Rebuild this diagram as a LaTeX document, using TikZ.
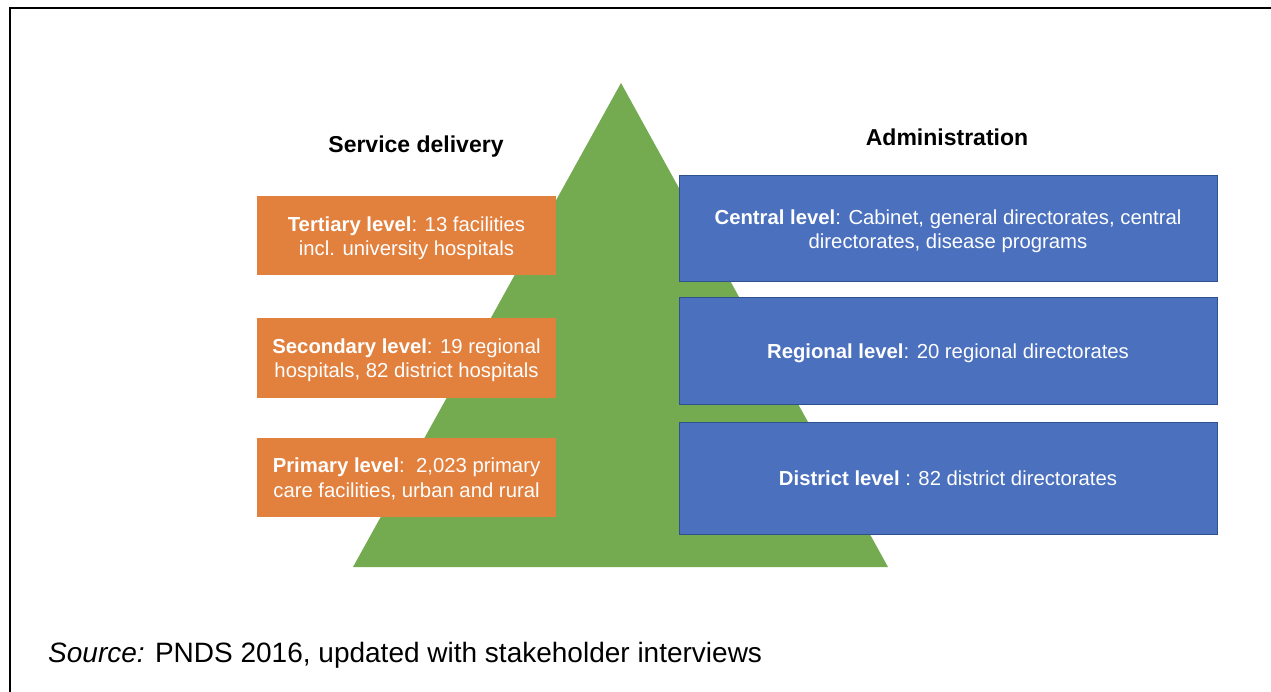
\documentclass[tikz,border=0pt]{standalone}
\usepackage{fontspec}
\setmainfont{Liberation Sans}
\definecolor{orangebox}{RGB}{226,128,62}
\definecolor{bluebox}{RGB}{74,112,190}
\definecolor{blueedge}{RGB}{47,82,143}
\definecolor{greentri}{RGB}{116,170,80}
\begin{document}
\begin{tikzpicture}[x=1pt,y=-1pt,
  sdbox/.style={fill=orangebox, minimum width=299pt, minimum height=79pt, text=white, align=center, inner sep=0pt, text depth=0pt, font=\fontsize{20.3}{24.5}\selectfont},
  adbox/.style={fill=bluebox, draw=blueedge, line width=1pt, minimum width=538pt, text=white, align=center, inner sep=0pt, text depth=0pt, font=\fontsize{20.3}{24.5}\selectfont},
  heading/.style={font=\fontsize{23}{27}\selectfont\bfseries, inner sep=0pt},
  frameline/.style={line width=2pt, black}]
\useasboundingbox (0,0) rectangle (1271,692);
\fill[white] (0,0) rectangle (1271,692);
\draw[frameline] (10,692) -- (10,8) -- (1271,8);
\fill[greentri] (621,83) -- (888,567) -- (353,567) -- cycle;
\node[heading] (sd) at (416,147) {Service delivery};
\node[heading] (ad) at (947,137) {Administration};
\node[sdbox] (ter) at (406.5,236) {\textbf{Tertiary level}: 13 facilities\\incl. university hospitals};
\node[sdbox] (sec) at (406.5,358) {\textbf{Secondary level}: 19 regional\\hospitals, 82 district hospitals};
\node[sdbox] (pri) at (406.5,477.5) {\textbf{Primary level}:\ \ 2,023 primary\\care facilities, urban and rural};
\node[adbox, minimum height=106pt] (cen) at (948,229) {\textbf{Central level}: Cabinet, general directorates, central\\directorates, disease programs};
\node[adbox, minimum height=106pt] (reg) at (948,351) {\textbf{Regional level}: 20 regional directorates};
\node[adbox, minimum height=112pt] (dis) at (948,478) {\textbf{District level} : 82 district directorates};
\node[anchor=base west, inner sep=0pt, font=\fontsize{28}{33}\selectfont] (src) at (48,662) {\textit{Source:} PNDS 2016, updated with stakeholder interviews};
\end{tikzpicture}
\end{document}
